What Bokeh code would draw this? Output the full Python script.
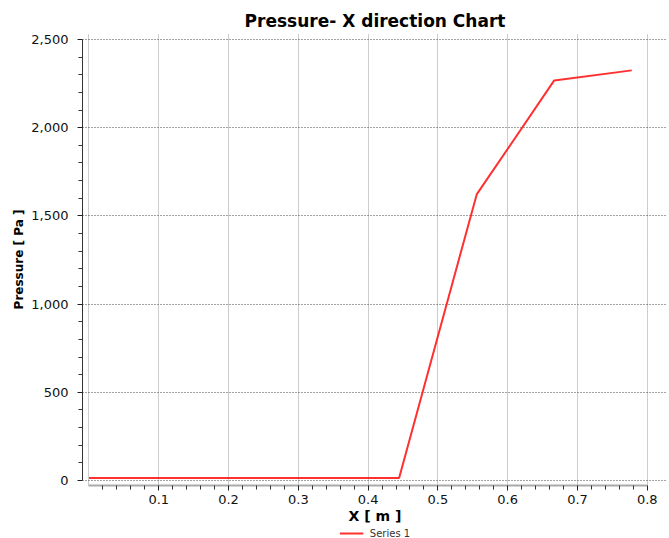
from bokeh.plotting import figure
from bokeh.layouts import column
from bokeh.models import FixedTicker, Legend, LegendItem, NumeralTickFormatter, Range1d
from bokeh.embed import file_html
from bokeh.resources import INLINE

# ---- data ----
x_m = [0.0, 0.4444, 0.5556, 0.6667, 0.7778]
pressure_pa = [15, 15, 1622, 2268, 2325]
series_name = "Series 1"

x_major_ticks = [0.1, 0.2, 0.3, 0.4, 0.5, 0.6, 0.7, 0.8]
x_grid_ticks = [0.0, 0.1, 0.2, 0.3, 0.4, 0.5, 0.6, 0.7, 0.8]
y_major_ticks = [0, 500, 1000, 1500, 2000, 2500]

x_minor_ticks = [round(i * 0.02, 4) for i in range(1, 40) if i % 5 != 0]
y_minor_ticks = [i * 100 for i in range(1, 25) if i % 5 != 0]

FONT = "DejaVu Sans"
LINE_COLOR = "#ff1a1a"

p = figure(width=669, height=527, output_backend="svg", toolbar_location=None,
           x_range=Range1d(-0.0093, 0.829), y_range=Range1d(-28, 2534),
           min_border_left=82, min_border_right=2, min_border_top=33, min_border_bottom=42)

p.title.text = "Pressure- X direction Chart"
p.title.align = "center"
p.title.text_font = FONT
p.title.text_font_size = "17px"
p.title.text_font_style = "bold"
p.title.text_color = "#000000"
p.title.standoff = 6

p.outline_line_color = None
p.background_fill_color = "white"

r = p.line(x_m, pressure_pa, line_color=LINE_COLOR, line_width=2, line_alpha=0.9)

# x axis
xa = p.xaxis[0]
xa.ticker = FixedTicker(ticks=x_major_ticks, minor_ticks=x_minor_ticks)
xa.bounds = (0, 0.8)
xa.axis_label = "X [ m ]"
xa.axis_label_text_font = FONT
xa.axis_label_text_font_size = "14px"
xa.axis_label_text_font_style = "bold"
xa.axis_label_text_color = "#000000"
xa.axis_label_standoff = 1
xa.major_label_text_font = FONT
xa.major_label_text_font_size = "13px"
xa.major_label_text_color = "#111111"
xa.major_label_standoff = 4
xa.axis_line_color = "#aaaaaa"
xa.axis_line_width = 2
xa.major_tick_in = 0
xa.major_tick_out = 5
xa.minor_tick_in = 0
xa.minor_tick_out = 4
xa.major_tick_line_color = "#222222"
xa.minor_tick_line_color = "#333333"

# y axis
ya = p.yaxis[0]
ya.ticker = FixedTicker(ticks=y_major_ticks, minor_ticks=y_minor_ticks)
ya.formatter = NumeralTickFormatter(format="0,0")
ya.bounds = (0, 2500)
ya.axis_label = "Pressure [ Pa ]"
ya.axis_label_text_font = FONT
ya.axis_label_text_font_size = "12px"
ya.axis_label_text_font_style = "bold"
ya.axis_label_text_color = "#000000"
ya.axis_label_standoff = 2
ya.major_label_text_font = FONT
ya.major_label_text_font_size = "13px"
ya.major_label_text_color = "#111111"
ya.major_label_standoff = 9
ya.axis_line_color = "#333333"
ya.axis_line_width = 1
ya.major_tick_in = 0
ya.major_tick_out = 5
ya.minor_tick_in = 0
ya.minor_tick_out = 4
ya.major_tick_line_color = "#222222"
ya.minor_tick_line_color = "#333333"

# grids
p.xgrid.ticker = FixedTicker(ticks=x_grid_ticks)
p.xgrid.grid_line_color = "#9a9a9a"
p.xgrid.grid_line_dash = "1 1"
p.xgrid.grid_line_width = 1
p.ygrid.grid_line_color = "#444444"
p.ygrid.grid_line_dash = "1 2"
p.ygrid.grid_line_width = 1

# legend strip below the chart (same series, plotted outside the strip's view so only the legend shows)
lg = figure(width=669, height=11, output_backend="svg", toolbar_location=None,
            x_range=Range1d(0, 1), y_range=Range1d(0, 1),
            x_axis_location=None, y_axis_location=None,
            min_border_left=82, min_border_right=2, min_border_top=0, min_border_bottom=0)
lg.outline_line_color = None
lg.xgrid.visible = False
lg.ygrid.visible = False
r_leg = lg.line(x_m, pressure_pa, line_color=LINE_COLOR, line_width=2, line_alpha=0.9)

legend = Legend(items=[LegendItem(label=series_name, renderers=[r_leg])],
                orientation="horizontal", location="center",
                border_line_alpha=0, background_fill_alpha=0,
                padding=0, margin=0, spacing=0,
                glyph_width=24, glyph_height=11, label_height=11,
                label_standoff=7, label_text_font=FONT,
                label_text_font_size="10px", label_text_color="#333333")
lg.add_layout(legend)

layout = column(p, lg, spacing=0)
open("out.html", "w").write(file_html(layout, INLINE))
